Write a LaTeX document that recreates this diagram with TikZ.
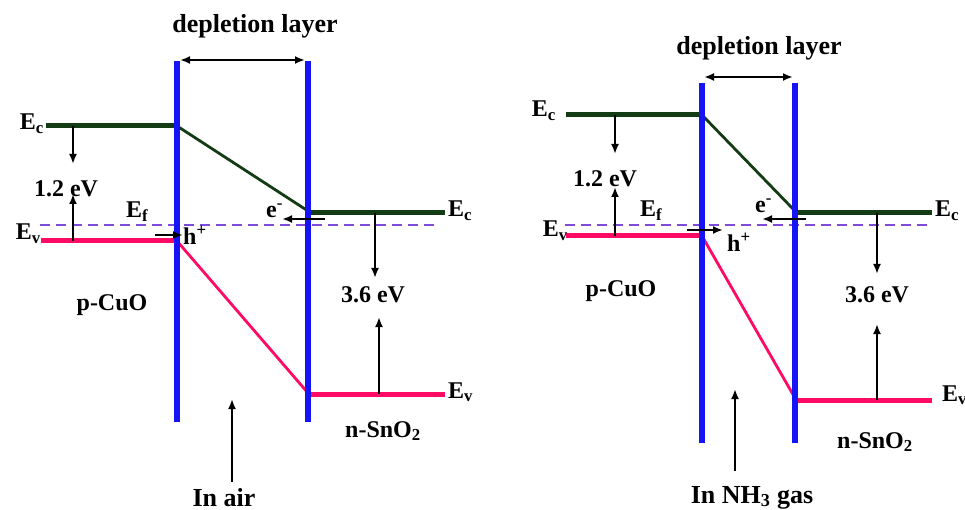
\documentclass[tikz,border=0pt]{standalone}
\usepackage{fontspec}
\setmainfont{Liberation Serif}
\usetikzlibrary{arrows.meta}
\definecolor{bblue}{RGB}{20,20,245}
\definecolor{dgreen}{RGB}{20,60,20}
\definecolor{bpink}{RGB}{255,10,100}
\definecolor{dpurple}{RGB}{125,75,220}
\tikzset{
  wall/.style={bblue,line width=6.5pt},
  cband/.style={dgreen,line width=5pt},
  cslope/.style={dgreen,line width=2.8pt},
  vband/.style={bpink,line width=5pt},
  vslope/.style={bpink,line width=2.8pt},
  fermi/.style={dpurple,line width=2.6pt,dash pattern=on 10pt off 6pt},
  arr/.style={black,line width=2.6pt,-{Latex[length=10pt,width=8pt]}},
  darr/.style={black,line width=2.6pt,{Latex[length=10pt,width=8pt]}-{Latex[length=10pt,width=8pt]}},
  lbl/.style={inner sep=0pt,font=\fontsize{24}{28}\selectfont\bfseries},
  biglbl/.style={inner sep=0pt,font=\fontsize{26}{30}\selectfont\bfseries},
}
\begin{document}
\begin{tikzpicture}[x=1pt,y=-1pt]
\useasboundingbox (0,0) rectangle (965,510);
% ================= LEFT (in air) =================
\coordinate (LwLt) at (177,61);  \coordinate (LwLb) at (177,422);
\coordinate (LwRt) at (308,61);  \coordinate (LwRb) at (308,422);
\coordinate (LdA) at (180,60);   \coordinate (LdB) at (305,60);
\coordinate (LEc1) at (46,126);  \coordinate (LEc2) at (177,126);
\coordinate (LEc3) at (308,211); \coordinate (LEc3b) at (308,213); \coordinate (LEc4) at (445,213);
\coordinate (LEf1) at (40,225);  \coordinate (LEf2) at (437,225);
\coordinate (LEv1) at (41,241);  \coordinate (LEv2) at (177,241);
\coordinate (LEv3) at (308,393); \coordinate (LEv3b) at (308,394); \coordinate (LEv4) at (445,394);
\coordinate (LgA) at (73,126); \coordinate (LgB) at (73,164);
\coordinate (LgC) at (73,241); \coordinate (LgD) at (73,194);
\coordinate (LGa) at (375,213); \coordinate (LGb) at (375,278);
\coordinate (LGc) at (379,394); \coordinate (LGd) at (379,317);
\coordinate (LhA) at (155,235); \coordinate (LhB) at (183,235);
\coordinate (LeA) at (325,219); \coordinate (LeB) at (282,219);
\coordinate (LairA) at (232,482); \coordinate (LairB) at (232,399);

\draw[cband] (LEc1) -- (LEc2);
\draw[cslope] (LEc2) -- (LEc3);
\draw[cband] (LEc3b) -- (LEc4);
\draw[vband] (LEv1) -- (LEv2);
\draw[vslope] (LEv2) -- (LEv3);
\draw[vband] (LEv3b) -- (LEv4);
\draw[fermi] (LEf1) -- (LEf2);
\draw[wall] (LwLt) -- (LwLb);
\draw[wall] (LwRt) -- (LwRb);
\draw[darr] (LdA) -- (LdB);
\draw[arr] (LgA) -- (LgB);
\draw[arr] (LgC) -- (LgD);
\draw[arr] (LGa) -- (LGb);
\draw[arr] (LGc) -- (LGd);
\draw[arr] (LhA) -- (LhB);
\draw[arr] (LeA) -- (LeB);
\draw[arr] (LairA) -- (LairB);

\node[biglbl,anchor=base] (Ldep) at (255,33) {depletion layer};
\node[lbl,anchor=base east] (LEcl) at (44,130) {E\textsubscript{c}};
\node[lbl,anchor=base east] (LEvl) at (41,240) {E\textsubscript{v}};
\node[lbl,anchor=base west] (LEcr) at (448,217) {E\textsubscript{c}};
\node[lbl,anchor=base west] (LEvr) at (448,398) {E\textsubscript{v}};
\node[lbl,anchor=base west] (LEfl) at (126,218) {E\textsubscript{f}};
\node[lbl,anchor=base] (Lgap1) at (66,197) {1.2 eV};
\node[lbl,anchor=base] (Lgap2) at (373,302) {3.6 eV};
\node[lbl,anchor=base west] (Lh) at (183,245) {h\textsuperscript{+}};
\node[lbl,anchor=base west] (Le) at (266,218) {e\textsuperscript{-}};
\node[lbl,anchor=base] (Lp) at (112,310) {p-CuO};
\node[lbl,anchor=base] (Ln) at (383,437) {n-SnO\textsubscript{2}};
\node[biglbl,anchor=base] (Lair) at (224,506) {In air};

% ================= RIGHT (in NH3) =================
\coordinate (RwLt) at (702,83);  \coordinate (RwLb) at (702,443);
\coordinate (RwRt) at (795,83);  \coordinate (RwRb) at (795,443);
\coordinate (RdA) at (704,77);   \coordinate (RdB) at (793,77);
\coordinate (REc1) at (566,115); \coordinate (REc2) at (702,115);
\coordinate (REc3) at (795,211); \coordinate (REc3b) at (795,213); \coordinate (REc4) at (932,213);
\coordinate (REf1) at (565,225); \coordinate (REf2) at (932,225);
\coordinate (REv1) at (566,236); \coordinate (REv2) at (702,236);
\coordinate (REv3) at (795,398); \coordinate (REv3b) at (795,400); \coordinate (REv4) at (932,400);
\coordinate (RgA) at (615,115); \coordinate (RgB) at (615,154);
\coordinate (RgC) at (615,236); \coordinate (RgD) at (615,187);
\coordinate (RGa) at (877,213); \coordinate (RGb) at (877,274);
\coordinate (RGc) at (877,400); \coordinate (RGd) at (877,324);
\coordinate (RhA) at (687,230); \coordinate (RhB) at (723,230);
\coordinate (ReA) at (806,219); \coordinate (ReB) at (762,219);
\coordinate (RgasA) at (735,471); \coordinate (RgasB) at (735,389);

\draw[cband] (REc1) -- (REc2);
\draw[cslope] (REc2) -- (REc3);
\draw[cband] (REc3b) -- (REc4);
\draw[vband] (REv1) -- (REv2);
\draw[vslope] (REv2) -- (REv3);
\draw[vband] (REv3b) -- (REv4);
\draw[fermi] (REf1) -- (REf2);
\draw[wall] (RwLt) -- (RwLb);
\draw[wall] (RwRt) -- (RwRb);
\draw[darr] (RdA) -- (RdB);
\draw[arr] (RgA) -- (RgB);
\draw[arr] (RgC) -- (RgD);
\draw[arr] (RGa) -- (RGb);
\draw[arr] (RGc) -- (RGd);
\draw[arr] (RhA) -- (RhB);
\draw[arr] (ReA) -- (ReB);
\draw[arr] (RgasA) -- (RgasB);

\node[biglbl,anchor=base] (Rdep) at (759,55) {depletion layer};
\node[lbl,anchor=base east] (REcl) at (556,117) {E\textsubscript{c}};
\node[lbl,anchor=base east] (REvl) at (568,237) {E\textsubscript{v}};
\node[lbl,anchor=base west] (REcr) at (935,217) {E\textsubscript{c}};
\node[lbl,anchor=base west] (REvr) at (942,401) {E\textsubscript{v}};
\node[lbl,anchor=base west] (REfl) at (640,217) {E\textsubscript{f}};
\node[lbl,anchor=base] (Rgap1) at (605,187) {1.2 eV};
\node[lbl,anchor=base] (Rgap2) at (877,302) {3.6 eV};
\node[lbl,anchor=base west] (Rh) at (727,252) {h\textsuperscript{+}};
\node[lbl,anchor=base west] (Re) at (755,213) {e\textsuperscript{-}};
\node[lbl,anchor=base] (Rp) at (621,296) {p-CuO};
\node[lbl,anchor=base] (Rn) at (875,448) {n-SnO\textsubscript{2}};
\node[biglbl,anchor=base] (Rgas) at (752,503) {In NH\textsubscript{3} gas};
\end{tikzpicture}
\end{document}
